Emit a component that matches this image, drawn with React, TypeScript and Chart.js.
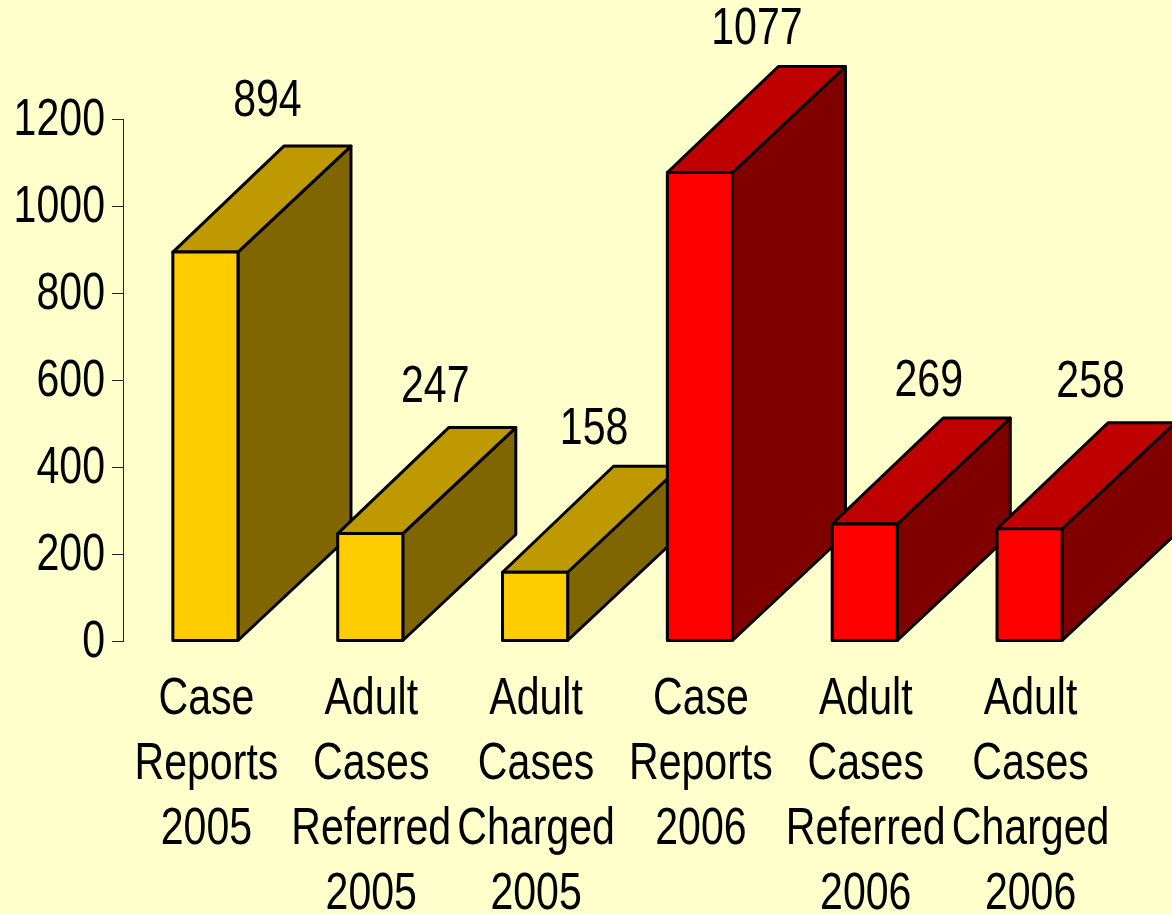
import React, { useEffect, useRef } from "react";
import { Chart, registerables } from "chart.js";

Chart.register(...registerables);

const categories: string[][] = [
  ["Case", "Reports", "2005"],
  ["Adult", "Cases", "Referred", "2005"],
  ["Adult", "Cases", "Charged", "2005"],
  ["Case", "Reports", "2006"],
  ["Adult", "Cases", "Referred", "2006"],
  ["Adult", "Cases", "Charged", "2006"],
];
const values = [894, 247, 158, 1077, 269, 258];
const frontColors = ["#FFCC00", "#FFCC00", "#FFCC00", "#FF0000", "#FF0000", "#FF0000"];
const topColors = ["#BF9900", "#BF9900", "#BF9900", "#BF0000", "#BF0000", "#BF0000"];
const sideColors = ["#806600", "#806600", "#806600", "#800000", "#800000", "#800000"];

const FONT = '"Liberation Sans", Arial, sans-serif';
const FONT_SIZE = 52;
const TEXT_SQUEEZE = 0.79;
const BACKGROUND = "#FFFFCC";
const DEPTH_LEFT = 111;
const DEPTH_RIGHT = 113;
const DEPTH_Y = 106;
const labelShiftX = [62, 65, 59, 57, 64, 61];
const labelShiftY = [150, 146, 143, 143, 142, 146];

const background3d = {
  id: "background3d",
  beforeDraw(chart: any) {
    const { ctx, width, height } = chart;
    ctx.save();
    ctx.fillStyle = BACKGROUND;
    ctx.fillRect(0, 0, width, height);
    ctx.restore();
  },
};

const bars3d = {
  id: "bars3d",
  beforeDatasetDraw(chart: any, args: any) {
    const { ctx } = chart;
    const meta = args.meta;
    ctx.save();
    ctx.lineWidth = 3;
    ctx.strokeStyle = "#000000";
    ctx.lineJoin = "round";
    meta.data.forEach((bar: any, i: number) => {
      const left = bar.x - bar.width / 2;
      const right = bar.x + bar.width / 2;
      const top = bar.y;
      const bottom = bar.base;
      const poly = (pts: number[][], fill: string) => {
        ctx.beginPath();
        pts.forEach((p, k) => (k ? ctx.lineTo(p[0], p[1]) : ctx.moveTo(p[0], p[1])));
        ctx.closePath();
        ctx.fillStyle = fill;
        ctx.fill();
        ctx.stroke();
      };
      poly(
        [
          [right, top],
          [right + DEPTH_RIGHT, top - DEPTH_Y],
          [right + DEPTH_RIGHT, bottom - DEPTH_Y],
          [right, bottom],
        ],
        sideColors[i]
      );
      poly(
        [
          [left, top],
          [left + DEPTH_LEFT, top - DEPTH_Y],
          [right + DEPTH_RIGHT, top - DEPTH_Y],
          [right, top],
        ],
        topColors[i]
      );
      poly(
        [
          [left, top],
          [right, top],
          [right, bottom],
          [left, bottom],
        ],
        frontColors[i]
      );
    });
    ctx.fillStyle = "#000000";
    ctx.font = `${FONT_SIZE}px ${FONT}`;
    ctx.textAlign = "center";
    ctx.textBaseline = "middle";
    meta.data.forEach((bar: any, i: number) => {
      ctx.fillText(String(values[i]), bar.x + labelShiftX[i], bar.y - labelShiftY[i]);
    });
    ctx.restore();
    return false;
  },
};

export default function App() {
  const ref = useRef<HTMLCanvasElement | null>(null);
  useEffect(() => {
    document.body.style.margin = "0";
    document.body.style.background = BACKGROUND;
    const canvas = ref.current as HTMLCanvasElement;
    const ctx = canvas.getContext("2d") as any;
    // The reference's type is horizontally condensed: squeeze every text run around its anchor.
    const plainFillText = ctx.fillText;
    ctx.fillText = function (text: string, x: number, y: number) {
      ctx.save();
      ctx.translate(x, y);
      ctx.scale(TEXT_SQUEEZE, 1);
      plainFillText.call(ctx, text, 0, 0);
      ctx.restore();
    };
    const chart = new Chart(canvas, {
      type: "bar",
      data: {
        labels: categories,
        datasets: [
          {
            data: values,
            backgroundColor: frontColors,
            barPercentage: 0.395,
            categoryPercentage: 1,
          },
        ],
      },
      plugins: [background3d, bars3d],
      options: {
        responsive: false,
        animation: false,
        layout: { padding: { top: 119, right: 60, left: 0, bottom: 0 } },
        plugins: { legend: { display: false }, title: { display: false }, tooltip: { enabled: false } },
        scales: {
          x: {
            afterFit(scale: any) {
              scale.height = 914 - 641;
            },
            border: { display: false },
            grid: { display: false },
            ticks: {
              autoSkip: false,
              maxRotation: 0,
              minRotation: 0,
              padding: 18,
              labelOffset: 1,
              color: "#000000",
              font: { family: FONT, size: FONT_SIZE, lineHeight: 65 / 52 },
            },
          },
          y: {
            min: 0,
            max: 1200,
            afterFit(scale: any) {
              scale.width = 123;
            },
            border: { display: true, color: "#222222", width: 1 },
            grid: { drawOnChartArea: false, drawTicks: true, tickLength: 11, color: "#222222", lineWidth: 1 },
            ticks: {
              stepSize: 200,
              padding: 7,
              labelOffset: 2,
              color: "#000000",
              font: { family: FONT, size: FONT_SIZE },
              callback: (v: number) => String(v),
            },
          },
        },
      },
    } as any);
    return () => {
      chart.destroy();
      delete ctx.fillText;
    };
  }, []);
  return <canvas ref={ref} width={1172} height={914} style={{ display: "block" }} />;
}
